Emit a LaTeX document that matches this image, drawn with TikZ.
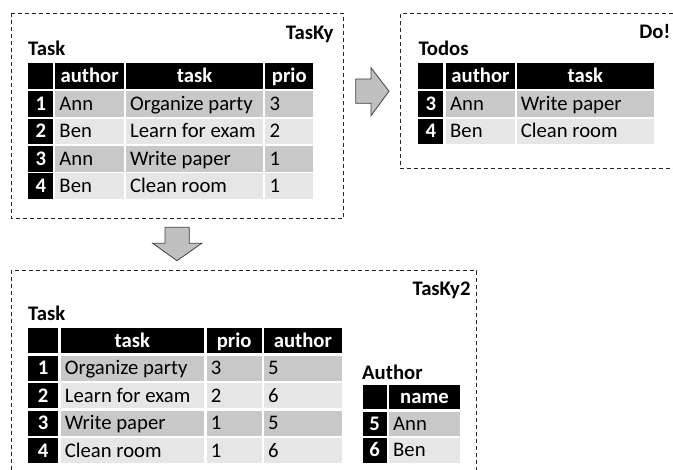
\documentclass[tikz,border=0pt]{standalone}
\usepackage{fontspec}
\setmainfont{Carlito}
\definecolor{rowdark}{HTML}{C8C8C8}
\definecolor{rowlight}{HTML}{E6E6E6}
\definecolor{arrowgray}{HTML}{C0C0C0}
\newcommand\fsz{\fontsize{20.7}{25}\selectfont}
\tikzset{
  frame/.style={draw=black!85, line width=1pt, dash pattern=on 4pt off 3pt},
  hd/.style={fill=black},
  dk/.style={fill=rowdark},
  lt/.style={fill=rowlight},
  wtxt/.style={text=white, font=\fsz\bfseries, inner sep=0pt, anchor=base},
  btxt/.style={font=\fsz, inner sep=0pt, anchor=base west},
  titletxt/.style={font=\fsz\bfseries, inner sep=0pt},
  bigarrow/.style={fill=arrowgray, draw=black!75, line width=0.8pt, line join=miter}
}
% black header / index cell, centred white bold text
\newcommand\hcell[6]{%
  \fill[hd] (#2,#3) rectangle (#4,#5);
  \node[wtxt] (#1) at ({(#2+#4)/2},{(#3+#5)/2+6.5}) {#6};}
% data cell, left aligned text
\newcommand\dcell[7]{%
  \fill[#6] (#2,#3) rectangle (#4,#5);
  \node[btxt] (#1) at ({#2+4},{(#3+#5)/2+6.5}) {#7};}
\begin{document}
\begin{tikzpicture}[x=1pt,y=-1pt]
\useasboundingbox (0,0) rectangle (673,470);

% ---------- frames ----------
\draw[frame] (11,13.3) rectangle (343.3,218.5);
\draw[frame] (673,13.3) -- (400.7,13.3) -- (400.7,169) -- (673,169);
\draw[frame] (11,470) -- (11,270.7) -- (476.7,270.7) -- (476.7,470);

% ---------- block arrows ----------
\draw[bigarrow] (355.7,79) -- (371,79) -- (371,67.7) -- (389,91.3) -- (371,115.7) -- (371,103.3) -- (355.7,103.3) -- cycle;
\draw[bigarrow] (165,227.3) -- (189.3,227.3) -- (189.3,243.3) -- (201.7,243.3) -- (177,260.7) -- (152.7,243.3) -- (165,243.3) -- cycle;

% ---------- titles ----------
\node[titletxt, anchor=base east] (tasky) at (333.5,39.3) {TasKy};
\node[titletxt, anchor=base west] (tasklbl) at (28,56) {Task};
\node[titletxt, anchor=base east] (do) at (670.5,38.8) {Do!};
\node[titletxt, anchor=base west] (todoslbl) at (418.3,56) {Todos};
\node[titletxt, anchor=base east] (tasky2) at (470.7,296) {TasKy2};
\node[titletxt, anchor=base west] (task2lbl) at (28,321) {Task};
\node[titletxt, anchor=base west] (authorlbl) at (362,379.3) {Author};

% ---------- TasKy : Task ----------
\hcell{ah0}{28.3}{62.7}{53.3}{89.3}{}
\hcell{ah1}{55.3}{62.7}{124}{89.3}{author}
\hcell{ah2}{126}{62.7}{263.3}{89.3}{task}
\hcell{ah3}{265.3}{62.7}{313.3}{89.3}{prio}

\hcell{a10}{28.3}{90.7}{53.3}{116.7}{1}
\dcell{a11}{55.3}{90.7}{124}{116.7}{dk}{Ann}
\dcell{a12}{126}{90.7}{263.3}{116.7}{dk}{Organize party}
\dcell{a13}{265.3}{90.7}{313.3}{116.7}{dk}{3}

\hcell{a20}{28.3}{118.7}{53.3}{144.3}{2}
\dcell{a21}{55.3}{118.7}{124}{144.3}{lt}{Ben}
\dcell{a22}{126}{118.7}{263.3}{144.3}{lt}{Learn for exam}
\dcell{a23}{265.3}{118.7}{313.3}{144.3}{lt}{2}

\hcell{a30}{28.3}{146}{53.3}{171.7}{3}
\dcell{a31}{55.3}{146}{124}{171.7}{dk}{Ann}
\dcell{a32}{126}{146}{263.3}{171.7}{dk}{Write paper}
\dcell{a33}{265.3}{146}{313.3}{171.7}{dk}{1}

\hcell{a40}{28.3}{173.3}{53.3}{199.3}{4}
\dcell{a41}{55.3}{173.3}{124}{199.3}{lt}{Ben}
\dcell{a42}{126}{173.3}{263.3}{199.3}{lt}{Clean room}
\dcell{a43}{265.3}{173.3}{313.3}{199.3}{lt}{1}

% ---------- Do! : Todos ----------
\hcell{bh0}{418.3}{62.7}{443.3}{89.3}{}
\hcell{bh1}{446}{62.7}{515}{89.3}{author}
\hcell{bh2}{516.7}{62.7}{654}{89.3}{task}

\hcell{b10}{418.3}{90.7}{443.3}{116.7}{3}
\dcell{b11}{446}{90.7}{515}{116.7}{dk}{Ann}
\dcell{b12}{516.7}{90.7}{654}{116.7}{dk}{Write paper}

\hcell{b20}{418.3}{118.7}{443.3}{144.3}{4}
\dcell{b21}{446}{118.7}{515}{144.3}{lt}{Ben}
\dcell{b22}{516.7}{118.7}{654}{144.3}{lt}{Clean room}

% ---------- TasKy2 : Task ----------
\hcell{ch0}{28.3}{328.3}{58}{353.3}{}
\hcell{ch1}{60.7}{328.3}{204}{353.3}{task}
\hcell{ch2}{206.7}{328.3}{261.7}{353.3}{prio}
\hcell{ch3}{264}{328.3}{341.7}{353.3}{author}

\hcell{c10}{28.3}{356}{58}{381}{1}
\dcell{c11}{60.7}{356}{204}{381}{dk}{Organize party}
\dcell{c12}{206.7}{356}{261.7}{381}{dk}{3}
\dcell{c13}{264}{356}{341.7}{381}{dk}{5}

\hcell{c20}{28.3}{383.3}{58}{408.3}{2}
\dcell{c21}{60.7}{383.3}{204}{408.3}{lt}{Learn for exam}
\dcell{c22}{206.7}{383.3}{261.7}{408.3}{lt}{2}
\dcell{c23}{264}{383.3}{341.7}{408.3}{lt}{6}

\hcell{c30}{28.3}{410.7}{58}{435.7}{3}
\dcell{c31}{60.7}{410.7}{204}{435.7}{dk}{Write paper}
\dcell{c32}{206.7}{410.7}{261.7}{435.7}{dk}{1}
\dcell{c33}{264}{410.7}{341.7}{435.7}{dk}{5}

\hcell{c40}{28.3}{438.3}{58}{463.3}{4}
\dcell{c41}{60.7}{438.3}{204}{463.3}{lt}{Clean room}
\dcell{c42}{206.7}{438.3}{261.7}{463.3}{lt}{1}
\dcell{c43}{264}{438.3}{341.7}{463.3}{lt}{6}

% ---------- TasKy2 : Author ----------
\hcell{dh0}{362.7}{385}{386.7}{409}{}
\hcell{dh1}{389}{385}{460}{409}{name}

\hcell{d10}{362.7}{412.3}{386.7}{436}{5}
\dcell{d11}{389}{412.3}{460}{436}{dk}{Ann}

\hcell{d20}{362.7}{438.3}{386.7}{462.7}{6}
\dcell{d21}{389}{438.3}{460}{462.7}{lt}{Ben}
\end{tikzpicture}
\end{document}
